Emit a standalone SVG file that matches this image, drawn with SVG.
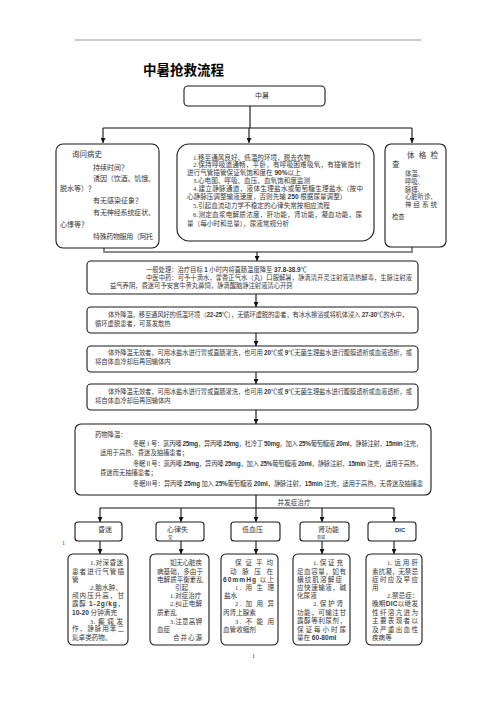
<svg xmlns="http://www.w3.org/2000/svg" width="496" height="702" viewBox="0 0 496 702">
<style>
text{font-family:"Liberation Serif","Noto Sans CJK SC",serif;fill:#383838;}
.f7{font-size:7px;}
.f66{font-size:6.6px;}
.f63{font-size:6.3px;}
.ttl{font-family:"Noto Sans CJK SC",sans-serif;font-size:13.5px;font-weight:bold;fill:#000;}
.b{font-family:"Liberation Sans","Noto Sans CJK SC",sans-serif;font-weight:bold;}
.box{fill:#fff;stroke:#1a1a1a;stroke-width:1.1;}
.ln{fill:none;stroke:#111;stroke-width:1.1;}
.gl{fill:none;stroke:#8a8a8a;stroke-width:2;}
</style>
<defs>
<marker id="ah" viewBox="0 0 6 6" refX="6" refY="3" markerWidth="5" markerHeight="5" orient="auto" markerUnits="userSpaceOnUse"><path d="M0,0 L6,3 L0,6 z" fill="#111"/></marker>
</defs>
<rect width="496" height="702" fill="#fff"/>
<line x1="75" y1="40" x2="421" y2="40" stroke="#555" stroke-width="0.6"/>
<text class="ttl" x="143" y="75">中暑抢救流程</text>

<g id="connectors">
<path class="ln" d="M250,106 V128 M103,128 H412"/>
<path class="ln" d="M103,128 V143" marker-end="url(#ah)"/>
<path class="ln" d="M249,128 V143" marker-end="url(#ah)"/>
<path class="ln" d="M412,128 V143" marker-end="url(#ah)"/>
<path class="gl" d="M104,248 V252 H412 V247"/>
<path class="ln" d="M257,252 V261" marker-end="url(#ah)"/>
<path class="ln" d="M256,294 V307" marker-end="url(#ah)"/>
<path class="ln" d="M256,333 V346" marker-end="url(#ah)"/>
<path class="ln" d="M256,372 V384" marker-end="url(#ah)"/>
<path class="ln" d="M256,410 V424" marker-end="url(#ah)"/>
<path class="ln" d="M256,495 V522" marker-end="url(#ah)"/>
<path class="ln" d="M100,508 H394"/>
<path class="ln" d="M100,508 V522" marker-end="url(#ah)"/>
<path class="ln" d="M181,508 V522" marker-end="url(#ah)"/>
<path class="ln" d="M322,508 V522" marker-end="url(#ah)"/>
<path class="ln" d="M394,508 V522" marker-end="url(#ah)"/>
<path class="ln" d="M100,541 V554" marker-end="url(#ah)"/>
<path class="ln" d="M181,541 V554" marker-end="url(#ah)"/>
<path class="ln" d="M256,541 V554" marker-end="url(#ah)"/>
<path class="ln" d="M322,541 V554" marker-end="url(#ah)"/>
<path class="ln" d="M394,541 V554" marker-end="url(#ah)"/>
<text class="f66" x="294" y="504.5" text-anchor="middle">并发症治疗</text>
</g>

<g id="n-zhongshu">
<rect class="box" x="184" y="86" width="141" height="20" rx="4"/>
<text class="f7" x="262" y="97.5" text-anchor="middle">中暑</text>
</g>

<g id="n-history">
<rect class="box" x="56" y="144" width="103" height="104" rx="7"/>
<text style="font-size:7.5px" x="72" y="157">询问病史</text>
<text class="f7" x="93" y="169.7">持续时间？</text>
<text class="f7" x="93" y="180.7" textLength="62" lengthAdjust="spacing">诱因（饮酒、饥饿、</text>
<text class="f7" x="60" y="190.7">脱水等）？</text>
<text class="f7" x="93" y="202.7">有无感染征象？</text>
<text class="f7" x="93" y="214.7" textLength="62" lengthAdjust="spacing">有无神经系统症状、</text>
<text class="f7" x="60" y="226.7">心悸等？</text>
<text class="f7" x="93" y="238.7" textLength="60" lengthAdjust="spacing">特殊药物服用（阿托</text>
</g>

<g id="n-measures">
<rect class="box" x="177" y="144" width="197" height="97" rx="12"/>
<text class="f66" x="193" y="159.5">1.移至通风良好、低温的环境，脱去衣物</text>
<text class="f66" x="193" y="167" textLength="168" lengthAdjust="spacing">2.保持呼吸道通畅，平卧，有呼吸困难吸氧，有插管指针</text>
<text class="f66" x="187" y="174.5">进行气管插管保证氧饱和度在 <tspan class="b">90%</tspan>以上</text>
<text class="f66" x="193" y="182.5">3.心电图、呼吸、血压、血氧饱和度监测</text>
<text class="f66" x="193" y="190.5" textLength="170" lengthAdjust="spacing">4.建立静脉通道，液体生理盐水或葡萄糖生理盐水（按中</text>
<text class="f66" x="187" y="199">心静脉压调整输液速度，否则先输 <tspan class="b">250</tspan> 根据尿量调整）</text>
<text class="f66" x="193" y="208">5.引起血流动力学不稳定的心律失常按相应流程</text>
<text class="f66" x="193" y="216.5" textLength="169" lengthAdjust="spacing">6.测定血浆电解质浓度，肝功能，肾功能，凝血功能，尿</text>
<text class="f66" x="187" y="225.5">量（每小时和总量），尿液常规分析</text>
</g>

<g id="n-exam">
<rect class="box" x="385" y="144" width="61" height="103" rx="6"/>
<text style="font-size:7.5px" x="407" y="157.8" textLength="31" lengthAdjust="spacing">体 格 检</text>
<text style="font-size:7.5px" x="392" y="166.8">查</text>
<text class="f63" x="405" y="176.4">体温、</text>
<text class="f63" x="405" y="184.4">呼吸、</text>
<text class="f63" x="405" y="191.6">脉搏、</text>
<text class="f63" x="405" y="199.4">心脏听诊、</text>
<text class="f63" x="405" y="207.4" textLength="32" lengthAdjust="spacing">神 经 系 统</text>
<text class="f63" x="392" y="218.5">检查</text>
</g>

<g id="n-general">
<rect class="box" x="87" y="261" width="331" height="33" rx="4"/>
<text class="f63" x="146" y="272.4">一般处理：治疗目标 <tspan class="b">1</tspan> 小时内将直肠温度降至 <tspan class="b">37.8-38.9</tspan>℃</text>
<text class="f63" x="146" y="280.4" textLength="266" lengthAdjust="spacing">中医中药：可予十滴水，藿香正气水（丸）口服解暑，静滴清开灵注射液清热解毒，生脉注射液</text>
<text class="f63" x="110" y="288.4">益气养阴，昏迷可予安宫牛黄丸鼻饲，静滴醒脑静注射液清心开窍</text>
</g>

<g id="n-cool1">
<rect class="box" x="87" y="307" width="331" height="26" rx="4"/>
<text class="f63" x="108" y="317.4" textLength="300" lengthAdjust="spacing">体外降温，移至通风好的低温环境（<tspan class="b">22-25</tspan>℃），无循环虚脱的患者，有冰水擦浴或将机体浸入 <tspan class="b">27-30</tspan>℃的水中，</text>
<text class="f63" x="95" y="326.4">循环虚脱患者，可蒸发散热</text>
</g>

<g id="n-cool2">
<rect class="box" x="87" y="346" width="331" height="26" rx="4"/>
<text class="f63" x="108" y="355.4" textLength="304" lengthAdjust="spacing">体外降温无效者，可用冰盐水进行胃或直肠灌洗，也可用 <tspan class="b">20</tspan>℃或 <tspan class="b">9</tspan>℃无菌生理盐水进行腹膜透析或血液透析，或</text>
<text class="f63" x="95" y="364.4">将自体血冷却后再回输体内</text>
</g>

<g id="n-cool3">
<rect class="box" x="87" y="384" width="331" height="26" rx="4"/>
<text class="f63" x="108" y="394.4" textLength="304" lengthAdjust="spacing">体外降温无效者，可用冰盐水进行胃或直肠灌洗，也可用 <tspan class="b">20</tspan>℃或 <tspan class="b">9</tspan>℃无菌生理盐水进行腹膜透析或血液透析，或</text>
<text class="f63" x="95" y="403.4">将自体血冷却后再回输体内</text>
</g>

<g id="n-drug">
<rect class="box" x="75" y="424" width="356" height="71" rx="6"/>
<text class="f63" x="95" y="437.4">药物降温：</text>
<text class="f63" x="133" y="446.4" textLength="289" lengthAdjust="spacing">冬眠Ⅰ号：氯丙嗪 <tspan class="b">25mg</tspan>，异丙嗪 <tspan class="b">25mg</tspan>，杜冷丁 <tspan class="b">50mg</tspan>，加入 <tspan class="b">25%</tspan>葡萄糖液 <tspan class="b">20ml</tspan>，静脉注射，<tspan class="b">15min</tspan> 注完，</text>
<text class="f63" x="100" y="455.4">适用于高热、昏迷及抽搐患者；</text>
<text class="f63" x="133" y="466.4" textLength="289" lengthAdjust="spacing">冬眠Ⅱ号：氯丙嗪 <tspan class="b">25mg</tspan>，异丙嗪 <tspan class="b">25mg</tspan>，加入 <tspan class="b">25%</tspan>葡萄糖液 <tspan class="b">20ml</tspan>，静脉注射，<tspan class="b">15min</tspan> 注完，适用于高热，</text>
<text class="f63" x="100" y="475.4">昏迷而无抽搐患者；</text>
<text class="f63" x="133" y="486.4" textLength="290" lengthAdjust="spacing">冬眠Ⅲ号：异丙嗪 <tspan class="b">25mg</tspan> 加入 <tspan class="b">25%</tspan>葡萄糖液 <tspan class="b">20ml</tspan>，静脉注射，<tspan class="b">15min</tspan> 注完，适用于高热，无昏迷及抽搐患</text>
</g>

<text style="font-size:6px" x="62" y="545">1</text>

<g id="n-coma">
<rect class="box" x="75" y="522" width="47" height="19" rx="3"/>
<text class="f7" x="98" y="531.7">昏迷</text>
</g>
<g id="n-arrhythmia">
<rect class="box" x="156" y="522" width="48" height="19" rx="3"/>
<text class="f7" x="167" y="531.7">心律失</text>
<text style="font-size:4.5px" x="168" y="539">常</text>
</g>
<g id="n-hypotension">
<rect class="box" x="231" y="522" width="49" height="19" rx="3"/>
<text class="f7" x="242" y="531.7">低血压</text>
</g>
<g id="n-renal">
<rect class="box" x="300" y="522" width="49" height="19" rx="3"/>
<text class="f7" x="318" y="531.7">肾功能</text>
<text style="font-size:4px" x="317" y="539">衰竭</text>
</g>
<g id="n-dic">
<rect class="box" x="368" y="522" width="48" height="19" rx="3"/>
<text class="b" style="font-size:6px" x="395" y="531.5">DIC</text>
</g>

<g id="n-coma-tx">
<rect class="box" x="68" y="554" width="60" height="91" rx="5"/>
<text class="f66" x="90" y="564.5" textLength="33" lengthAdjust="spacing">1.对深昏迷</text>
<text class="f66" x="72" y="573.5" textLength="52" lengthAdjust="spacing">患者进行气管插</text>
<text class="f66" x="72" y="581.5">管</text>
<text class="f66" x="90" y="589.5" textLength="32" lengthAdjust="spacing">2.脑水肿、</text>
<text class="f66" x="72" y="597.5" textLength="52" lengthAdjust="spacing">颅内压升高，甘</text>
<text class="f66" x="72" y="605.5" textLength="52" lengthAdjust="spacing">露醇 <tspan class="b">1-2g/kg</tspan>，</text>
<text class="f66" x="72" y="614.5" textLength="45" lengthAdjust="spacing"><tspan class="b">10-20</tspan> 分钟滴完</text>
<text class="f66" x="90" y="623.5" textLength="33" lengthAdjust="spacing">3. 癫 痫 发</text>
<text class="f66" x="72" y="630.5" textLength="52" lengthAdjust="spacing">作，静脉用苯二</text>
<text class="f66" x="72" y="639.5">氮卓类药物。</text>
</g>

<g id="n-arrhythmia-tx">
<rect class="box" x="150" y="554" width="59" height="91" rx="5"/>
<text class="f66" x="170" y="564.5" textLength="32" lengthAdjust="spacing">如无心脏疾</text>
<text class="f66" x="157" y="573.5" textLength="46" lengthAdjust="spacing">病基础，多由于</text>
<text class="f66" x="157" y="581.5" textLength="46" lengthAdjust="spacing">电解质平衡紊乱</text>
<text class="f66" x="175" y="589.5">引起</text>
<text class="f66" x="170" y="597.5">1.对症治疗</text>
<text class="f66" x="170" y="605.5" textLength="32" lengthAdjust="spacing">2.纠正电解</text>
<text class="f66" x="157" y="614.5">质紊乱</text>
<text class="f66" x="170" y="623.5" textLength="32" lengthAdjust="spacing">3.注意高钾</text>
<text class="f66" x="157" y="631.5">血症</text>
<text class="f66" x="173" y="639.5" textLength="29" lengthAdjust="spacing">合 并 心 源</text>
</g>

<g id="n-hypotension-tx">
<rect class="box" x="221" y="554" width="57" height="91" rx="5"/>
<text class="f66" x="235" y="564.5" textLength="38" lengthAdjust="spacing">保证平均</text>
<text class="f66" x="230" y="573.5" textLength="43" lengthAdjust="spacing">动脉压在</text>
<text class="f66" x="223" y="581.5" textLength="51" lengthAdjust="spacing"><tspan class="b">60mmHg</tspan> 以上</text>
<text class="f66" x="235" y="589.5" textLength="39" lengthAdjust="spacing">1. 用 生 理</text>
<text class="f66" x="224" y="597.5">盐水</text>
<text class="f66" x="235" y="605.5" textLength="39" lengthAdjust="spacing">2. 加 用 异</text>
<text class="f66" x="223" y="614.5">丙肾上腺素</text>
<text class="f66" x="235" y="623.5" textLength="39" lengthAdjust="spacing">3. 不 能 用</text>
<text class="f66" x="223" y="631.5">血管收缩剂</text>
</g>

<g id="n-renal-tx">
<rect class="box" x="293" y="554" width="57" height="91" rx="5"/>
<text class="f66" x="313" y="564.5" textLength="30" lengthAdjust="spacing">1. 保 证 充</text>
<text class="f66" x="297" y="573.5" textLength="49" lengthAdjust="spacing">足血容量，如有</text>
<text class="f66" x="297" y="581.5" textLength="45" lengthAdjust="spacing">横纹肌溶解症</text>
<text class="f66" x="297" y="589.5" textLength="49" lengthAdjust="spacing">应快速输液，碱</text>
<text class="f66" x="297" y="597.5">化尿液</text>
<text class="f66" x="313" y="605.5" textLength="30" lengthAdjust="spacing">2. 保 护 肾</text>
<text class="f66" x="297" y="614.5" textLength="49" lengthAdjust="spacing">功能，可输注甘</text>
<text class="f66" x="297" y="622.5" textLength="49" lengthAdjust="spacing">露醇等利尿剂，</text>
<text class="f66" x="297" y="631.5" textLength="49" lengthAdjust="spacing">保证每小时尿</text>
<text class="f66" x="297" y="639.5">量在 <tspan class="b">60-80ml</tspan></text>
</g>

<g id="n-dic-tx">
<rect class="box" x="366" y="554" width="56" height="91" rx="5"/>
<text class="f66" x="387" y="564.5" textLength="31" lengthAdjust="spacing">1. 运 用 肝</text>
<text class="f66" x="372" y="573.5" textLength="46" lengthAdjust="spacing">素抗凝，无禁忌</text>
<text class="f66" x="372" y="581.5" textLength="46" lengthAdjust="spacing">症时应及早应</text>
<text class="f66" x="372" y="589.5">用</text>
<text class="f66" x="387" y="597.5">2.禁忌症：</text>
<text class="f66" x="372" y="605.5" textLength="46" lengthAdjust="spacing">晚期<tspan class="b">DIC</tspan>以继发</text>
<text class="f66" x="372" y="614.5" textLength="46" lengthAdjust="spacing">性纤溶亢进为</text>
<text class="f66" x="372" y="622.5" textLength="46" lengthAdjust="spacing">主要表现者以</text>
<text class="f66" x="372" y="631.5" textLength="46" lengthAdjust="spacing">及严重出血性</text>
<text class="f66" x="372" y="639.5">疾病等</text>
</g>

<text style="font-size:6px" x="252" y="658">1</text>
</svg>
